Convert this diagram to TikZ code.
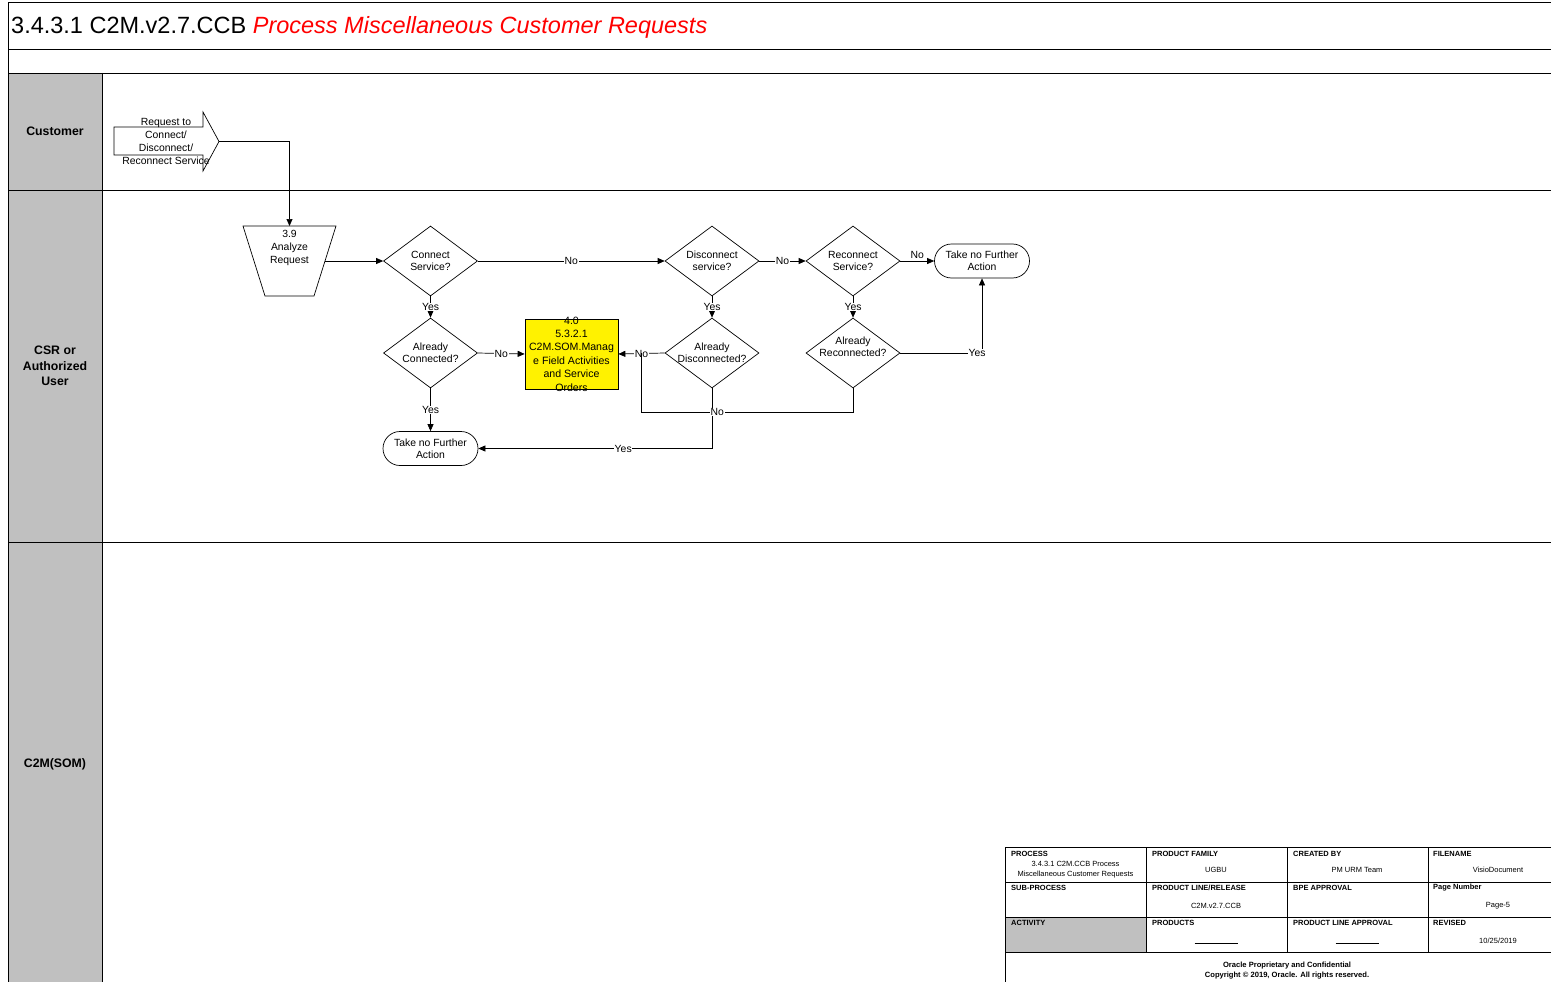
\documentclass[tikz,border=0pt]{standalone}
\usepackage{fontspec}
\setmainfont{Liberation Sans}
\usetikzlibrary{shapes.geometric,arrows.meta,calc}
\definecolor{lanegrey}{HTML}{C0C0C0}
\begin{document}
\begin{tikzpicture}[x=1pt,y=-1pt,
  line/.style={draw=black,line width=0.7pt},
  arr/.style={line,-{Triangle[length=7pt,width=6pt]}},
  txt/.style={font=\fontsize{10.4}{12.4}\selectfont,align=center,inner sep=0pt},
  lbl/.style={font=\fontsize{10.4}{12}\selectfont,fill=white,inner sep=0.6pt},
  dia/.style={diamond,draw=black,line width=0.7pt,fill=white,minimum width=94pt,minimum height=70pt,inner sep=0pt},
  term/.style={rectangle,rounded corners=17pt,draw=black,line width=0.7pt,fill=white,minimum width=95pt,minimum height=34pt,inner sep=0pt,font=\fontsize{10.4}{12.4}\selectfont,align=center},
  ybox/.style={rectangle,draw=black,line width=0.7pt,fill=yellow,minimum width=93pt,minimum height=70pt,inner sep=0pt},
  hdr/.style={font=\bfseries\fontsize{12.3}{15.5}\selectfont,align=center,inner sep=0pt},
  th/.style={font=\bfseries\fontsize{7.5}{8.5}\selectfont,anchor=west,inner sep=0pt},
  tv/.style={font=\fontsize{7.5}{10}\selectfont,align=center,inner sep=0pt},
  ft/.style={font=\bfseries\fontsize{7.6}{10}\selectfont,align=center,inner sep=0pt}
]
\useasboundingbox (0,0) rectangle (1551,982);
\fill[white] (0,0) rectangle (1551,982);
% lanes
\fill[lanegrey] (8,73) rectangle (102,982);
\draw[line,line width=1pt] (8,3) -- (1551,3);
\draw[line,line width=1pt] (8,50) -- (1551,50);
\draw[line] (8,73) -- (1551,73);
\draw[line] (8,190) -- (1551,190);
\draw[line] (8,542) -- (1551,542);
\draw[line] (8,3) -- (8,982);
\draw[line] (102,73) -- (102,982);
\node[anchor=west,font=\fontsize{23.5}{26}\selectfont,inner sep=0pt] (title) at (11,27)
  {3.4.3.1 C2M.v2.7.CCB \textcolor{red}{\itshape Process Miscellaneous Customer Requests}};
\node[hdr] (hcust) at (55,131) {Customer};
\node[hdr] (hcsr) at (55,366) {CSR or\\Authorized\\User};
\node[hdr] (hsom) at (55,764) {C2M(SOM)};
% customer request arrow
\draw[line,fill=white] (114,127) -- (203,127) -- (203,112) -- (219,141.5) -- (203,171) -- (203,155) -- (114,155) -- cycle;
\coordinate (reqtip) at (219,141.5);
\node[txt,font=\fontsize{10.4}{12.7}\selectfont] (req) at (166,141.5) {Request to\\Connect/\\Disconnect/\\Reconnect Service};
% analyze request
\draw[line,fill=white] (243,226) -- (336,226) -- (314,296) -- (265,296) -- cycle;
\node[txt,font=\fontsize{10.4}{12.7}\selectfont] (an) at (289.5,248) {3.9\\Analyze\\Request};
\coordinate (antop) at (289.5,226);
\coordinate (anright) at (325.4,261);
% decisions
\node[dia,label={[txt]center:{Connect\\Service?}}] (cs) at (430.5,261) {};
\node[dia,label={[txt]center:{Disconnect\\service?}}] (ds) at (712,261) {};
\node[dia,label={[txt]center:{Reconnect\\Service?}}] (rs) at (853,261) {};
\node[dia,label={[txt]center:{Already\\Connected?}}] (acn) at (430.5,353) {};
\node[dia,label={[txt]center:{Already\\Disconnected?}}] (adc) at (712,353) {};
\node[dia,label={[txt,yshift=6pt]center:{Already\\Reconnected?}}] (arc) at (853,353) {};
\node[term] (t1) at (982,261) {Take no Further\\Action};
\node[term] (t2) at (430.5,448.5) {Take no Further\\Action};
\node[ybox,label={[txt,font=\fontsize{10.6}{13.4}\selectfont]center:{4.0\\5.3.2.1\\C2M.SOM.Manag\\e Field Activities\\and Service\\Orders}}] (yb) at (571.5,354) {};
% connectors
\draw[arr] (reqtip) -| (antop);
\draw[arr] (anright) -- (cs.west);
\draw[arr] (cs.east) -- node[lbl]{No} (ds.west);
\draw[arr] (ds.east) -- node[lbl]{No} (rs.west);
\draw[arr] (rs.east) -- node[lbl,fill=none,anchor=south,yshift=1pt]{No} (t1.west);
\draw[arr] (cs.south) -- node[lbl]{Yes} (acn.north);
\draw[arr] (acn.east) -- node[lbl]{No} (yb.west);
\draw[arr] (acn.south) -- node[lbl]{Yes} (t2.north);
\draw[arr] (ds.south) -- node[lbl]{Yes} (adc.north);
\draw[arr] (adc.west) -- node[lbl]{No} (yb.east);
\draw[arr] (adc.south) |- node[lbl,pos=0.69]{Yes} (t2.east);
\coordinate (jn) at (641,353);
\coordinate (jb) at (641,412);
\draw[line] (arc.south) |- node[lbl,pos=0.82]{No} (jb) -- (jn);
\draw[arr] (rs.south) -- node[lbl]{Yes} (arc.north);
\draw[arr] (arc.east) -| node[lbl,pos=0.47]{Yes} (t1.south);
% title block table
\fill[lanegrey] (1005,917) rectangle (1146,952);
\draw[line] (1005,847) -- (1551,847);
\draw[line] (1005,882) -- (1551,882);
\draw[line] (1005,917) -- (1551,917);
\draw[line] (1005,952) -- (1551,952);
\draw[line] (1005,847) -- (1005,982);
\draw[line] (1146,847) -- (1146,952);
\draw[line] (1287,847) -- (1287,952);
\draw[line] (1428,847) -- (1428,952);
\node[th] (h11) at (1011,853.5) {PROCESS};
\node[th] (h12) at (1152,853.5) {PRODUCT FAMILY};
\node[th] (h13) at (1293,853.5) {CREATED BY};
\node[th] (h14) at (1433,853.5) {FILENAME};
\node[th] (h21) at (1011,888) {SUB-PROCESS};
\node[th] (h22) at (1152,888) {PRODUCT LINE/RELEASE};
\node[th] (h23) at (1293,888) {BPE APPROVAL};
\node[th] (h24) at (1433,888) {Page Number};
\node[th] (h31) at (1011,923) {ACTIVITY};
\node[th] (h32) at (1152,923) {PRODUCTS};
\node[th] (h33) at (1293,923) {PRODUCT LINE APPROVAL};
\node[th] (h34) at (1433,923) {REVISED};
\node[tv] (v11) at (1075.5,869.5) {3.4.3.1 C2M.CCB Process\\Miscellaneous Customer Requests};
\node[tv] (v12) at (1216,870) {UGBU};
\node[tv] (v13) at (1357,870) {PM URM Team};
\node[tv] (v14) at (1498,870) {VisioDocument};
\node[tv] (v22) at (1216,906) {C2M.v2.7.CCB};
\node[tv] (v24) at (1498,906) {Page-5};
\node[tv] (v32) at (1216,943) {\rule{43pt}{0.4pt}};
\node[tv] (v33) at (1357,943) {\rule{43pt}{0.4pt}};
\node[tv] (v34) at (1498,941) {10/25/2019};
\node[ft] (f1) at (1287,965.5) {Oracle Proprietary and Confidential};
\node[ft] (f2) at (1287,975.5) {Copyright © 2019, Oracle. All rights reserved.};
\end{tikzpicture}
\end{document}
